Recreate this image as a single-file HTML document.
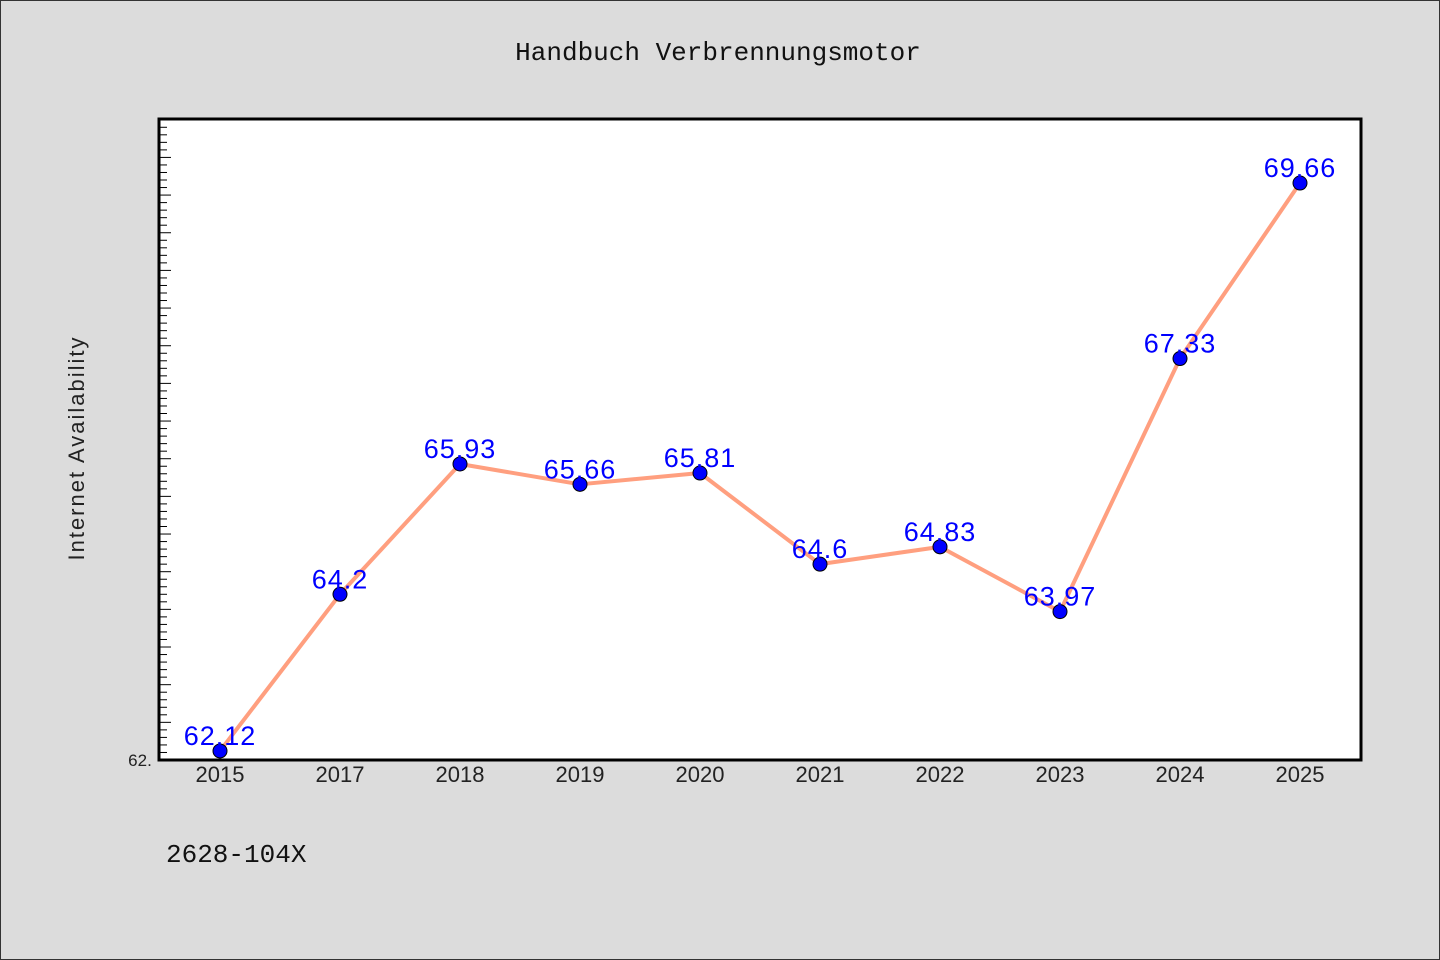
<!DOCTYPE html>
<html><head><meta charset="utf-8"><style>
html,body{margin:0;padding:0}
body{width:1440px;height:960px;background:#dcdcdc;overflow:hidden}
svg{display:block}
</style></head><body>
<svg id="chart" width="1440" height="960" xmlns="http://www.w3.org/2000/svg">
<rect x="0.5" y="0.5" width="1439" height="959" fill="#dcdcdc" stroke="#333" stroke-width="1"/>
<text x="718" y="60" text-anchor="middle" font-family="Liberation Mono, monospace" font-size="26" fill="#111">Handbuch Verbrennungsmotor</text>
<rect x="159" y="119" width="1202" height="641" fill="#fff"/>
<g id="yticks"></g>
<g id="xlabels"></g>
<g id="series"></g>
<rect x="159" y="119" width="1202" height="641" fill="none" stroke="#000" stroke-width="3"/>
<text x="140" y="766" text-anchor="middle" font-family="WenQuanYi Zen Hei, sans-serif" font-size="17" fill="#222">62.</text>
<text transform="translate(84,448) rotate(-90)" text-anchor="middle" font-family="WenQuanYi Zen Hei, sans-serif" font-size="22" fill="#222" letter-spacing="2">Internet Availability</text>
<text x="166" y="862" font-family="Liberation Mono, monospace" font-size="26" fill="#111">2628-104X</text>
</svg>
<script>
const categories = ["2015","2017","2018","2019","2020","2021","2022","2023","2024","2025"];
const values = [62.12,64.2,65.93,65.66,65.81,64.6,64.83,63.97,67.33,69.66];
const valueLabels = ["62.12","64.2","65.93","65.66","65.81","64.6","64.83","63.97","67.33","69.66"];
const yMin = 62.0, yMax = 70.51;
const NS="http://www.w3.org/2000/svg";
const top_=119, bottom=760, left=159, right=1361;
function yS(v){return bottom-(v-yMin)/(yMax-yMin)*(bottom-top_);}
function xS(i){return 220+i*120;}
function mk(t,a,p){const e=document.createElementNS(NS,t);for(const k in a)e.setAttribute(k,a[k]);p.appendChild(e);return e;}
const yt=document.getElementById('yticks');
for(let v=yMin;v<=yMax+1e-9;v+=0.1){
  const y=yS(v);
  const major=Math.abs(Math.round(v*2)-v*2)<1e-6;
  const t=mk('line',{x1:left,x2:left+(major?12:8),y1:y,y2:y,stroke:'#000','stroke-width':1},yt);
  
  
}
const xl=document.getElementById('xlabels');
categories.forEach((c,i)=>{
  const t=mk('text',{x:xS(i),y:782,'text-anchor':'middle','font-family':'WenQuanYi Zen Hei, sans-serif','font-size':22,fill:'#222'},xl);
  t.textContent=c;
  
  
});
const s=document.getElementById('series');
const pts=values.map((v,i)=>xS(i)+','+yS(v)).join(' ');
const pl=mk('polyline',{points:pts,fill:'none',stroke:'#ff9f7f','stroke-width':4,'stroke-linejoin':'round'},s);


values.forEach((v,i)=>{
  const c=mk('circle',{cx:xS(i),cy:yS(v),r:7,fill:'#0000ff',stroke:'#000','stroke-width':1},s);
  
  
  const t=mk('text',{x:xS(i),y:yS(v)-6,'text-anchor':'middle','font-family':'WenQuanYi Zen Hei, sans-serif','font-size':27,'letter-spacing':1,fill:'#0000ff'},s);
  t.textContent=valueLabels[i];
  
  
});
</script>
</body></html>
